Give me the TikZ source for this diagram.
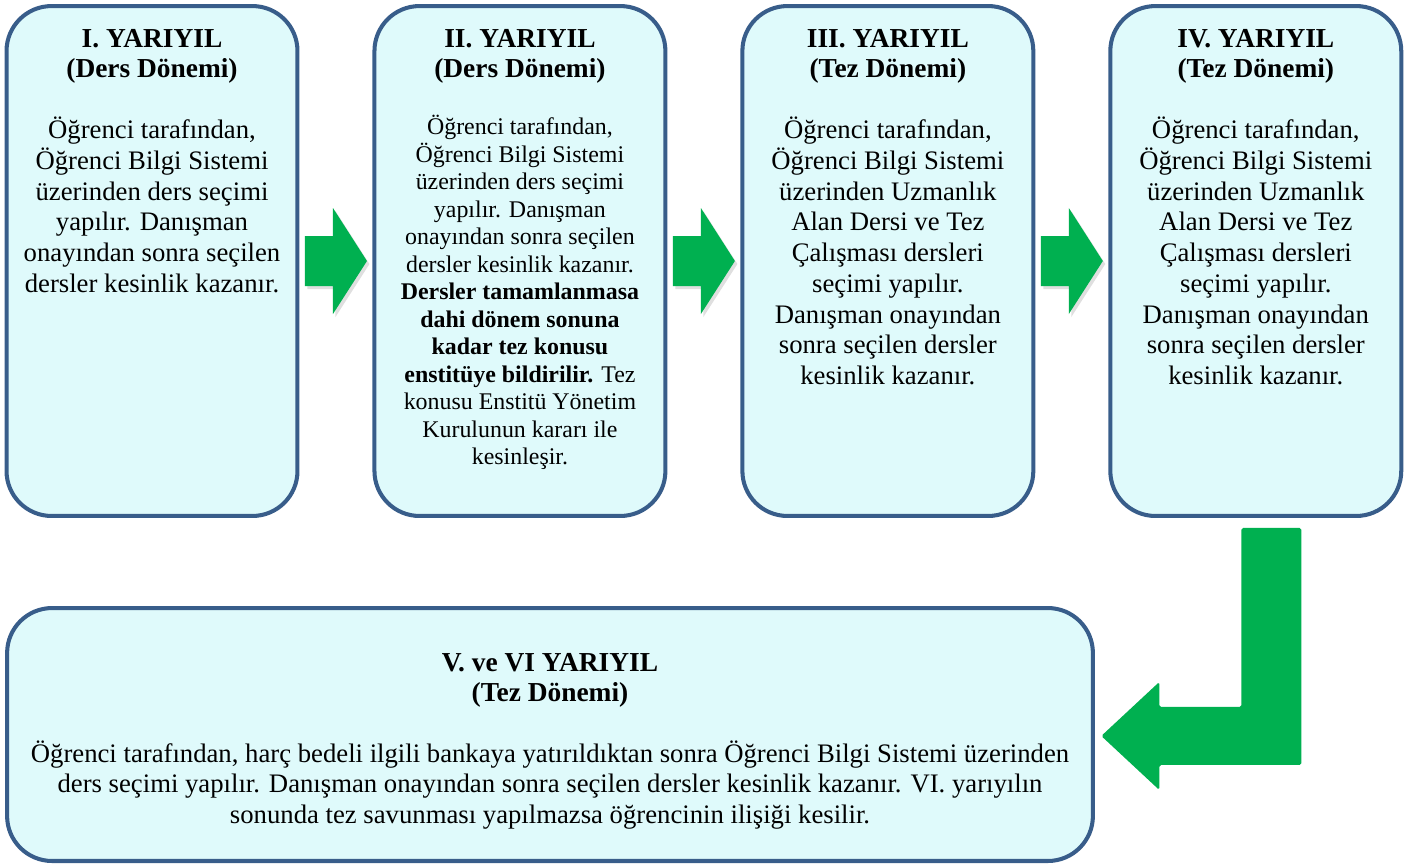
\documentclass[tikz,border=0pt]{standalone}
\usepackage{fontspec}
\setmainfont{Liberation Serif}
\usetikzlibrary{positioning,calc,shadows}
\definecolor{kenar}{HTML}{385D8A}
\definecolor{dolgu}{HTML}{DFFAFB}
\definecolor{yesil}{HTML}{00B050}
\tikzset{
  donem/.style={draw=kenar, line width=2.3pt, fill=dolgu, rounded corners=0.9cm,
                minimum width=5.82cm, minimum height=10.2cm, inner sep=0, outer sep=0},
  baslik/.style={font=\fontsize{15.6}{17.1}\selectfont\bfseries, align=center, inner sep=0, anchor=north},
  govde/.style={font=\fontsize{15.2}{17.5}\selectfont, align=center, inner sep=0, anchor=north},
  kucuk/.style={font=\fontsize{13.6}{15.65}\selectfont},
  okucu/.style={fill=yesil, drop shadow={opacity=0.25, shadow xshift=0.05cm, shadow yshift=-0.06cm}}
}
% right-pointing green arrow half way between two boxes
\newcommand\sagok[2]{
    \fill[okucu, shift={($(#1.east)!0.5!(#2.west)$)}]
        (-31,-25) -- (-3,-25) -- (-3,-53) -- (31,0) -- (-3,53) -- (-3,25) -- (-31,25) -- cycle;
}

\begin{document}
\begin{tikzpicture}[x=0.02cm,y=-0.02cm]
    \useasboundingbox (0,0) rectangle (1409,867);

    \node[donem] (b1) at (152,261) {};
    \node[donem, right=1.54cm of b1] (b2) {};
    \node[donem, right=1.54cm of b2] (b3) {};
    \node[donem, right=1.54cm of b3] (b4) {};
    \node[donem, minimum width=21.72cm, minimum height=5.06cm] (b5) at (550,734.5) {};

    \node[baslik] (t1) at ($(b1.north)+(0,22.5)$) {I. YARIYIL\\(Ders Dönemi)};
    \node[baslik] (t2) at ($(b2.north)+(0,22.5)$) {II. YARIYIL\\(Ders Dönemi)};
    \node[baslik] (t3) at ($(b3.north)+(0,22.5)$) {III. YARIYIL\\(Tez Dönemi)};
    \node[baslik] (t4) at ($(b4.north)+(0,22.5)$) {IV. YARIYIL\\(Tez Dönemi)};
    \node[baslik] (t5) at ($(b5.north)+(0,45)$) {V. ve VI YARIYIL\\(Tez Dönemi)};

    \node[govde] (g1) at ($(b1.north)+(0,110.5)$) {Öğrenci tarafından,\\Öğrenci Bilgi Sistemi\\üzerinden ders seçimi\\yapılır. Danışman\\onayından sonra seçilen\\dersler kesinlik kazanır.};
    \node[govde, kucuk] (g2) at ($(b2.north)+(0,109)$) {Öğrenci tarafından,\\Öğrenci Bilgi Sistemi\\üzerinden ders seçimi\\yapılır. Danışman\\onayından sonra seçilen\\dersler kesinlik kazanır.\\\textbf{Dersler tamamlanmasa}\\\textbf{dahi dönem sonuna}\\\textbf{kadar tez konusu}\\\textbf{enstitüye bildirilir.} Tez\\konusu Enstitü Yönetim\\Kurulunun kararı ile\\kesinleşir.};
    \node[govde] (g3) at ($(b3.north)+(0,110.5)$) {Öğrenci tarafından,\\Öğrenci Bilgi Sistemi\\üzerinden Uzmanlık\\Alan Dersi ve Tez\\Çalışması dersleri\\seçimi yapılır.\\Danışman onayından\\sonra seçilen dersler\\kesinlik kazanır.};
    \node[govde] (g4) at ($(b4.north)+(0,110.5)$) {Öğrenci tarafından,\\Öğrenci Bilgi Sistemi\\üzerinden Uzmanlık\\Alan Dersi ve Tez\\Çalışması dersleri\\seçimi yapılır.\\Danışman onayından\\sonra seçilen dersler\\kesinlik kazanır.};
    \node[govde] (g5) at ($(b5.north)+(0,132)$) {Öğrenci tarafından, harç bedeli ilgili bankaya yatırıldıktan sonra Öğrenci Bilgi Sistemi üzerinden\\ders seçimi yapılır. Danışman onayından sonra seçilen dersler kesinlik kazanır. VI. yarıyılın\\sonunda tez savunması yapılmazsa öğrencinin ilişiği kesilir.};

    \sagok{b1}{b2}
    \sagok{b2}{b3}
    \sagok{b3}{b4}

    % bent arrow from IV down to V
    \coordinate (k1) at ($(b4.south)+(-14.5,12)$);
    \fill[yesil, rounded corners=1pt] (k1) -- ++(60,0) -- ++(0,237) -- ++(-142,0) -- ++(0,25)
        -- ++(-58,-54) -- ++(58,-54) -- ++(0,25) -- ++(82,0) -- cycle;
\end{tikzpicture}
\end{document}
